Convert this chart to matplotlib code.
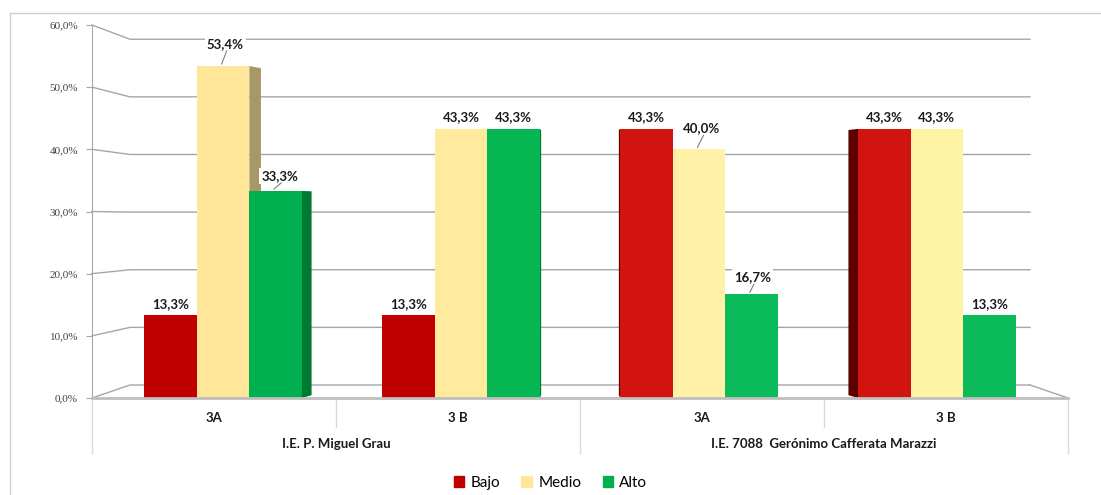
import numpy as np
import matplotlib
matplotlib.use("Agg")
import matplotlib.pyplot as plt
from matplotlib.patches import Patch, Polygon
from matplotlib.lines import Line2D
from matplotlib.ticker import FuncFormatter

# data
classes = ["3A", "3 B", "3A", "3 B"]
schools = ["I.E. P. Miguel Grau", "I.E. 7088  Gerónimo Cafferata Marazzi"]
series = ["Bajo", "Medio", "Alto"]
bajo = [13.3, 13.3, 43.3, 43.3]
medio = [53.4, 43.3, 40.0, 43.3]
alto = [33.3, 43.3, 16.7, 13.3]
yticks = [0, 10, 20, 30, 40, 50, 60]

# styling
legend_colors = ["#C00000", "#FFE699", "#00B050"]
bar_colors = [
    ["#C00000", "#C00000", "#D21410", "#D21410"],
    ["#FFE699", "#FFEA9E", "#FFF2A8", "#FFF3A6"],
    ["#00B050", "#05B653", "#0BBA58", "#0BBA58"],
]
side_colors = ["#5C0000", "#A89868", "#007A33"]
# distance (px) of a label above its bar, and x shift, for the leader-line ones
label_off = [[11, 11, 12, 12], [22, 12, 21, 12], [15, 12, 17, 11]]
label_dx = [[0, 0, 0, 0], [2, 0, 3, 0], [4, 0, 1, 0]]

W, H = 1101, 495
fig = plt.figure(figsize=(W / 100, H / 100), dpi=100)
ax = fig.add_axes([92 / W, (H - 398) / H, 976 / W, 373 / H])
ax.set_xlim(0, 4)
ax.set_ylim(0, 60)
px_x = 4 / 976
px_y = 60 / 373

for s in ["top", "right", "bottom"]:
    ax.spines[s].set_visible(False)
ax.spines["left"].set_color("#A6A6A6")
ax.set_xticks([])
ax.set_yticks(yticks)
ax.yaxis.set_major_formatter(FuncFormatter(lambda v, p: f"{v:.1f}%".replace(".", ",")))
ax.tick_params(axis="y", length=4, color="#A6A6A6", labelsize=8, labelcolor="#404040", pad=6)
for t in ax.get_yticklabels():
    t.set_family("Liberation Serif")

# back wall gridlines with perspective
bx0, bx1 = 38 * px_x, 4 - 38 * px_x
def back(v):
    return 2.09 + 0.927 * v
for v in yticks:
    ax.plot([0, bx0, bx1], [v, back(v), back(v)], color="#A6A6A6", lw=1, zorder=0.5, clip_on=False)
# floor
ax.plot([0, 4], [0, 0], color="#BFBFBF", lw=2, zorder=3, clip_on=False)
ax.plot([bx1, 4], [back(0), 0], color="#A6A6A6", lw=1, zorder=0.5, clip_on=False)

# bars
values = [bajo, medio, alto]
width = 0.215
centers = [2 + (i - 1.5) * 0.975 for i in range(len(classes))]
for k, vals in enumerate(values):
    for i, v in enumerate(vals):
        c = centers[i] + (k - 1) * width
        l, r = c - width / 2, c + width / 2
        ax.bar(c, v, width=width, color=bar_colors[k][i], zorder=2)
        # side face toward the vanishing point
        if r < 2:
            d = 0.035 * (2 - r)
            e = r
        else:
            d = -0.035 * (l - 2)
            e = l
        vb = 30 + (v - 30) * 0.985
        poly = Polygon([(e, 0), (e, v), (e + d, vb), (e + d, 30 - 30 * 0.985)],
                       closed=True, color=side_colors[k], zorder=1.5, lw=0)
        ax.add_patch(poly)
        # data label
        off = label_off[k][i] * px_y
        lx = c + label_dx[k][i] * px_x
        txt = f"{v:.1f}%".replace(".", ",")
        lead = label_off[k][i] > 14
        ax.text(lx, v + off, txt, ha="center", va="center", fontsize=9.5, fontweight="bold",
                family="Lato", color="#1A1A1A", zorder=4,
                bbox=dict(boxstyle="square,pad=0.15", fc="white", ec="none") if lead else None)
        if lead:
            ax.plot([c - 1.5 * px_x, lx + 1.5 * px_x], [v + 2 * px_y, v + off - 7 * px_y],
                    color="#7F7F7F", lw=0.8, zorder=4)

# category axis below
y_short = -29 * px_y
y_long = -55 * px_y
for x in [0, 2, 4]:
    ax.plot([x, x], [0, y_long], color="#D9D9D9", lw=1, clip_on=False)
for x in [1, 3]:
    ax.plot([x, x], [0, y_short], color="#D9D9D9", lw=1, clip_on=False)
for i, name in enumerate(classes):
    ax.text(i + 0.5, -20 * px_y, name, ha="center", va="center", fontsize=9.5,
            fontweight="bold", family="Lato", color="#1A1A1A")
for j, name in enumerate(schools):
    ax.text(2 * j + 1, -46 * px_y, name, ha="center", va="center", fontsize=9.5,
            fontweight="bold", family="Lato", color="#1A1A1A")

# chart frame
fig.add_artist(Line2D([10 / W, 1], [1 - 13 / H, 1 - 13 / H], color="#D0D0D0", lw=1))
fig.add_artist(Line2D([10 / W, 10 / W], [0, 1 - 13 / H], color="#D0D0D0", lw=1))

handles = [Patch(color=legend_colors[k], label=series[k]) for k in range(3)]
fig.legend(handles=handles, loc="center", bbox_to_anchor=(0.5, 12 / H), ncol=3, frameon=False,
           prop={"family": "Lato", "size": 11}, handlelength=0.7, handleheight=0.7,
           handletextpad=0.4, columnspacing=1.4)

fig.savefig("out.png", dpi=100)
